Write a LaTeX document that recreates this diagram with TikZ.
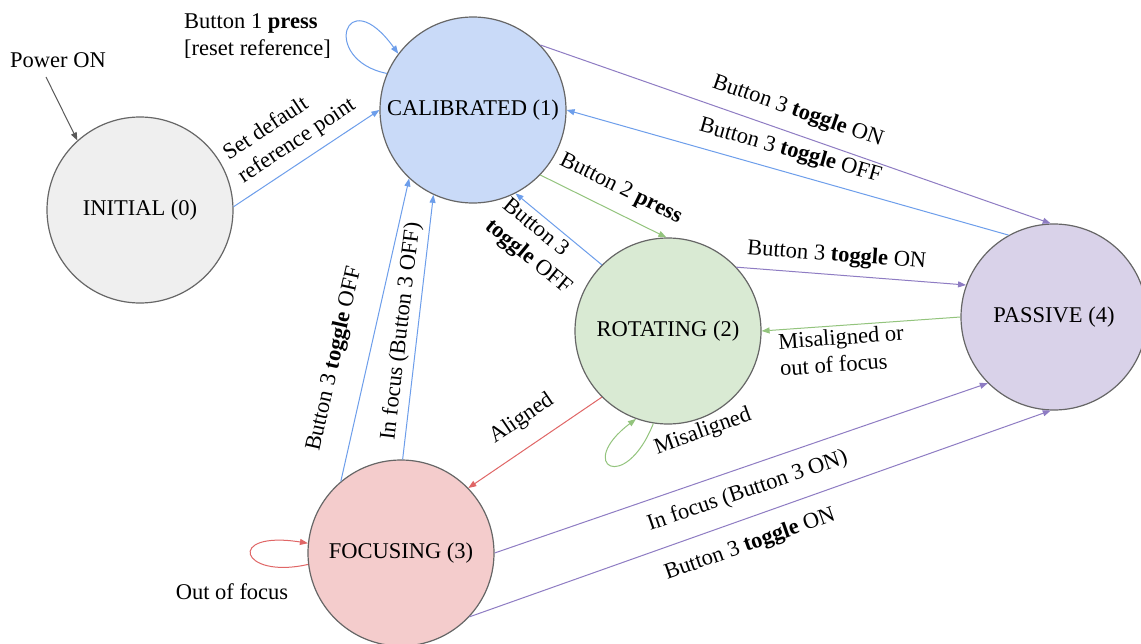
\documentclass[tikz,border=0pt]{standalone}
\usepackage{fontspec}
\setmainfont{Liberation Serif}
\usetikzlibrary{arrows.meta}
\definecolor{cIni}{HTML}{EFEFEF}
\definecolor{cCal}{HTML}{C9DAF8}
\definecolor{cRot}{HTML}{D9EAD3}
\definecolor{cFoc}{HTML}{F4CCCC}
\definecolor{cPas}{HTML}{D9D2E9}
\definecolor{cBorder}{HTML}{666666}
\definecolor{cBlue}{HTML}{6D9EEB}
\definecolor{cGreen}{HTML}{93C47D}
\definecolor{cRed}{HTML}{E06666}
\definecolor{cPurple}{HTML}{8E7CC3}
\definecolor{cDark}{HTML}{595959}
\begin{document}
\begin{tikzpicture}[x=1pt,y=-1pt,
  every node/.style={font=\fontsize{22.5}{27}\selectfont, text=black},
  state/.style={circle, draw=cBorder, line width=1.2pt, minimum size=186pt, inner sep=0pt},
  tr/.style={line width=1pt, -{Stealth[length=8pt,width=6pt,inset=0pt]}},
  lab/.style={sloped, inner sep=0pt, align=left},
  plainlab/.style={inner sep=0pt, align=left}
]
\clip (0,0) rectangle (1141,643);
\fill[white] (0,0) rectangle (1141,643);

% states
\node[state, fill=cIni] (ini) at (140,210) {INITIAL (0)};
\node[state, fill=cCal] (cal) at (473,110) {CALIBRATED (1)};
\node[state, fill=cRot] (rot) at (668,331) {ROTATING (2)};
\node[state, fill=cFoc] (foc) at (401,553) {FOCUSING (3)};
\node[state, fill=cPas] (pas) at (1054,317) {PASSIVE (4)};

% power on
\node[plainlab] (pwr) at (58,60) {Power ON};
\coordinate (pwrStart) at (46,77);
\draw[tr, draw=cDark] (pwrStart) -- (ini.132);

% initial -> calibrated
\draw[tr, draw=cBlue] (ini.2) -- node[lab, pos=.51, yshift=33pt] (l1) {Set default\\reference point} (cal.180);

% calibrated self loop
\draw[tr, draw=cBlue] (cal.157) .. controls (320,60) and (345,-20) .. (cal.143);
\node[plainlab, anchor=west] (l2) at (184,36) {Button 1 \textbf{press}\\{}[reset reference]};

% calibrated <-> passive
\draw[tr, draw=cPurple] (cal.44) -- node[lab, pos=.49, yshift=22pt] (l3) {Button 3 \textbf{toggle} ON} (pas.92);
\draw[tr, draw=cBlue] (pas.119) -- node[lab, pos=.507, yshift=21pt] (l4) {Button 3 \textbf{toggle} OFF} (cal.0);

% calibrated <-> rotating
\draw[tr, draw=cGreen] (cal.-44) -- node[lab, pos=.556, yshift=23pt] (l5) {Button 2 \textbf{press}} (rot.91);
\draw[tr, draw=cBlue] (rot.135) -- node[lab, pos=.55, yshift=-28pt] (l6) {Button 3\\\textbf{toggle} OFF} (cal.-63);

% focusing -> calibrated
\draw[tr, draw=cBlue] (foc.130) -- node[lab, pos=.38, yshift=33pt] (l7) {Button 3 \textbf{toggle} OFF} (cal.227);
\draw[tr, draw=cBlue] (foc.89) -- node[lab, pos=.477, yshift=16pt] (l8) {In focus (Button 3 OFF)} (cal.245);

% rotating -> focusing
\draw[tr, draw=cRed] (rot.225) -- node[lab, pos=.486, yshift=27pt] (l9) {Aligned} (foc.44.6);

% rotating self loop
\draw[tr, draw=cGreen] (rot.261) .. controls (625,495) and (575,465) .. (rot.250);
\node[plainlab, rotate=20] (l10) at (703,432) {Misaligned};

% rotating <-> passive
\draw[tr, draw=cPurple] (rot.43) -- node[lab, pos=.43, yshift=19pt] (l11) {Button 3 \textbf{toggle} ON} (pas.160);
\draw[tr, draw=cGreen] (pas.180) -- node[lab, pos=.605, yshift=-25pt] (l12) {Misaligned or\\out of focus} (rot.0);

% focusing -> passive
\draw[tr, draw=cPurple] (foc.0) -- node[lab, pos=.497, yshift=-24pt] (l13) {In focus (Button 3 ON)} (pas.225);
\draw[tr, draw=cPurple] (foc.-43.7) -- node[lab, pos=.468, yshift=-26pt] (l14) {Button 3 \textbf{toggle} ON} (pas.268);

% focusing self loop
\draw[tr, draw=cRed] (foc.187) .. controls (240,580) and (225,530) .. (foc.174);
\node[plainlab] (l15) at (232,592) {Out of focus};
\end{tikzpicture}
\end{document}
